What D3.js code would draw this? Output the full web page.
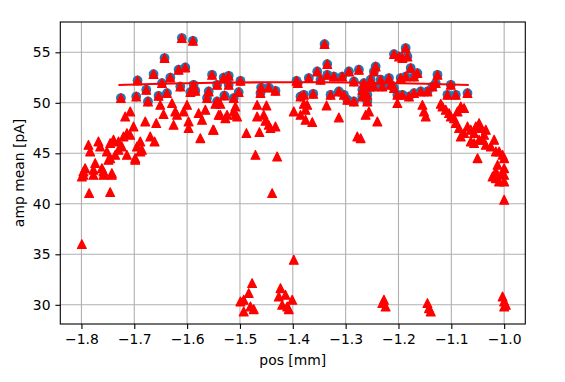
<!DOCTYPE html>
<html><head><meta charset="utf-8">
<script src="https://cdn.jsdelivr.net/npm/d3@7"></script>
<style>
html,body{margin:0;padding:0;background:#fff;}
text{font-family:"DejaVu Sans",sans-serif;}
</style></head>
<body>
<svg id="chart" width="565" height="382"></svg>
<script>
// Selected points (blue circles, with red triangles on top)
const selPos = [-1.610,-1.589,-1.6427,-1.6635,-1.6161,-1.6034,-1.6938,-1.6318,-1.6476,-1.7253,-1.6963,-1.6773,-1.6741,-1.6540,-1.6381,-1.6129,-1.5877,-1.5845,-1.5939,-1.5528,-1.5433,-1.5592,-1.5433,-1.5623,
 -1.3399,-1.3348,-1.5308,-1.5213,-1.5213,-1.4991,-1.5295,-1.5118,-1.5024,-1.4599,-1.4455,-1.4328,-1.4612,-1.3930,-1.3905,-1.3854,-1.3791,-1.3613,-1.3697,-1.3537,-1.3475,-1.3348,-1.3223,-1.3064,-1.2938,-1.2749,-1.3285,-1.3128,-1.3033,-1.2969,-1.2844,-1.2684,-1.2590,-1.2654,-1.2559,-1.2844,
 -1.2085,-1.1990,-1.1864,-1.1831,-1.1926,-1.2432,-1.2465,-1.1769,-1.1642,-1.1706,-1.2526,-1.2336,-1.2180,-1.1958,-1.1864,-1.2684,-1.2590,-1.2465,-1.2305,-1.2148,-1.2085,-1.2021,-1.1926,-1.1801,-1.1706,-1.1579,-1.1452,-1.1357,-1.1262,-1.1295,-1.1010,-1.1073,-1.0916,-1.0694];
const selAmp = [56.41,56.14,54.43,52.84,53.27,53.50,52.21,52.50,51.95,50.47,50.62,51.29,50.13,50.69,50.96,51.61,51.78,51.19,51.06,52.77,51.78,51.12,50.13,50.47,
 55.81,53.83,52.50,52.67,51.78,52.18,50.72,50.47,51.06,51.51,51.51,51.19,50.96,52.18,51.95,50.62,50.79,50.89,52.45,53.10,52.28,52.77,52.60,52.60,53.10,53.27,50.79,51.12,50.79,50.30,50.13,50.62,50.13,51.95,51.61,52.11,
 54.82,54.58,55.42,54.58,54.43,53.59,53.10,53.44,52.94,52.60,52.28,52.28,52.45,52.45,52.60,51.29,50.79,51.61,51.61,51.78,51.46,50.79,50.79,50.62,50.96,51.12,51.12,51.61,52.77,51.95,51.78,50.79,50.79,50.96];

// Remaining points (red triangles only)
const otherPos = [-1.7077,-1.7172,-1.6792,-1.6584,-1.6508,-1.6446,-1.6256,-1.6224,-1.6191,-1.6286,-1.6002,-1.5972,-1.5972,-1.6066,-1.5782,-1.5718,-1.5655,-1.5750,-1.5509,-1.5403,-1.5371,-1.7014,-1.7139,-1.7204,-1.7393,-1.7456,-1.7299,-1.7234,-1.6887,-1.6855,-1.6950,-1.6698,-1.6616,-1.7077,-1.7867,-1.7835,-1.7678,-1.7646,-1.7518,-1.7456,-1.7299,-1.7361,-1.7139,-1.6982,-1.6887,-1.7740,-1.7773,-1.7930,-1.7962,-1.7613,-1.7583,-1.7424,
 -1.7962,-1.7992,-1.7773,-1.7583,-1.7424,-1.7488,-1.6982,-1.7854,-1.7456,-1.7992,
 -1.5498,-1.5403,-1.5465,-1.5371,-1.5276,-1.5244,-1.5119,-1.5086,-1.5054,-1.5086,-1.4878,-1.4675,-1.4499,-1.4675,-1.4550,-1.4517,-1.4455,-1.4423,-1.4328,-1.4631,-1.4707,-1.4296,-1.3981,-1.3854,-1.3759,-1.3727,-1.3791,-1.3759,-1.3632,-1.3361,-1.3128,-1.2779,-1.2622,-1.2559,
 -1.4391,-1.3981,-1.4770,-1.4834,-1.4929,-1.4991,-1.4802,-1.4739,-1.4929,-1.4233,-1.4265,-1.4138,-1.4201,-1.4106,-1.4011,-1.4076,
 -1.2716,-1.2400,-1.2021,-1.1547,-1.1517,-1.1484,-1.1200,-1.1168,-1.1105,-1.1043,-1.1010,-1.0948,-1.0883,-1.0821,-1.0758,-1.0916,-1.0853,-1.0821,-1.0758,-1.0694,-1.0631,-1.0569,-1.0536,-1.0474,-1.0442,-1.0347,-1.0379,-1.0631,-1.0569,-1.0474,-1.0410,-1.0347,-1.0252,-1.0190,-1.0157,-1.0095,-1.0030,-1.0000,-1.0504,-1.0125,-1.0000,-1.0157,-1.0030,
 -1.0220,-1.0157,-1.0000,-1.0000,-1.0095,-1.0000,-1.2275,-1.2243,-1.2305,-1.1452,-1.1422,-1.1390,-1.0030,-1.0000,-1.0000,-0.9968];
const otherAmp = [49.14,48.64,48.15,47.99,49.80,48.88,47.82,49.14,48.81,49.97,49.80,48.15,47.50,49.14,48.98,48.32,49.31,46.50,47.33,48.81,49.90,47.65,47.00,46.66,46.34,46.01,46.17,45.67,46.17,45.35,45.67,46.66,46.17,46.83,45.84,45.18,46.17,45.67,45.18,44.52,45.35,44.85,44.85,44.52,45.18,44.03,43.37,43.53,43.20,43.53,43.20,43.04,
 42.87,42.70,42.87,42.87,42.87,44.36,44.36,41.06,41.16,36.01,
 47.33,49.97,49.90,48.81,48.48,48.81,49.14,48.81,48.64,49.63,47.00,49.80,49.73,48.64,48.81,48.22,47.82,47.50,47.65,47.10,44.85,44.68,49.14,48.81,49.31,49.80,49.90,48.32,48.09,49.73,48.55,46.66,48.81,49.14,
 41.06,34.46,32.15,31.16,30.50,30.33,29.83,29.57,29.34,31.65,30.82,30.99,30.00,29.83,30.50,29.57,
 46.50,48.15,49.97,49.80,49.14,48.64,49.90,49.63,49.31,48.98,48.64,48.48,49.14,49.63,49.48,47.99,47.50,46.66,47.00,47.65,47.33,47.00,47.65,47.99,47.50,47.33,46.83,46.17,46.01,46.34,46.34,45.84,45.67,46.34,45.18,45.18,44.85,44.52,44.52,43.86,43.53,43.20,43.04,
 42.70,42.54,42.87,42.21,42.21,40.40,30.50,29.83,30.17,30.17,29.67,29.34,30.82,30.33,29.83,30.00];

// Mean fit over the selected range
const fitPos = [-1.730,-1.65,-1.55,-1.45,-1.35,-1.25,-1.15,-1.067];
const fitAmp = [51.76,51.88,51.98,52.03,52.03,51.98,51.88,51.76];

const xTicks = [-1.8,-1.7,-1.6,-1.5,-1.4,-1.3,-1.2,-1.1,-1.0];
const yTicks = [30,35,40,45,50,55];
const xDomain = [-1.84,-0.96];
const yDomain = [28.1,58.0];

const svg = d3.select("#chart");
const L = 60.3, R = 525.3, T = 22, B = 324;
const x = d3.scaleLinear().domain(xDomain).range([L,R]);
const y = d3.scaleLinear().domain(yDomain).range([B,T]);
const fmtX = v => (v<0?"\u2212":"") + Math.abs(v).toFixed(1);

// grid
const g = svg.append("g");
g.selectAll(".gx").data(xTicks).enter().append("line")
 .attr("x1",d=>x(d)).attr("x2",d=>x(d)).attr("y1",T).attr("y2",B)
 .attr("stroke","#b0b0b0").attr("stroke-width",1.1);
g.selectAll(".gy").data(yTicks).enter().append("line")
 .attr("x1",L).attr("x2",R).attr("y1",d=>y(d)).attr("y2",d=>y(d))
 .attr("stroke","#b0b0b0").attr("stroke-width",1.1);

// plot clip
svg.append("clipPath").attr("id","clip").append("rect").attr("x",L).attr("y",T).attr("width",R-L).attr("height",B-T);
const p = svg.append("g").attr("clip-path","url(#clip)");

// circles
p.selectAll(".c").data(d3.range(selPos.length)).enter().append("circle")
 .attr("cx",i=>x(selPos[i])).attr("cy",i=>y(selAmp[i])).attr("r",4.9)
 .attr("fill","#1f77b4");

// line
p.append("path").datum(d3.range(fitPos.length))
 .attr("d", d3.line().x(i=>x(fitPos[i])).y(i=>y(fitAmp[i])))
 .attr("fill","none").attr("stroke","#ff0000").attr("stroke-width",2.1);

// triangles
const allPos = selPos.concat(otherPos), allAmp = selAmp.concat(otherAmp);
const s = 4.4;
p.selectAll(".t").data(d3.range(allPos.length)).enter().append("path")
 .attr("d", i=>{const cx=x(allPos[i]), cy=y(allAmp[i]); return `M${cx},${cy-s}L${cx-s},${cy+s}L${cx+s},${cy+s}Z`;})
 .attr("fill","#ff0000").attr("stroke","#ff0000").attr("stroke-width",1.2).attr("stroke-linejoin","round");

// axes
const xa = svg.append("g").attr("transform",`translate(0,${B})`)
 .call(d3.axisBottom(x).tickValues(xTicks).tickFormat(fmtX).tickSize(4.9).tickPadding(4.9));
const ya = svg.append("g").attr("transform",`translate(${L},0)`)
 .call(d3.axisLeft(y).tickValues(yTicks).tickFormat(d3.format("d")).tickSize(4.9).tickPadding(4.9));
[xa,ya].forEach(a=>{a.select(".domain").remove(); a.selectAll("text").attr("font-size",13.9).attr("font-family","DejaVu Sans").attr("fill","#000");
 a.selectAll("line").attr("stroke","#000").attr("stroke-width",1.1);});

// frame
svg.append("rect").attr("x",L).attr("y",T).attr("width",R-L).attr("height",B-T)
 .attr("fill","none").attr("stroke","#000").attr("stroke-width",1.1);

svg.append("text").attr("x",(L+R)/2).attr("y",365).attr("text-anchor","middle")
 .attr("font-size",13.9).text("pos [mm]");
svg.append("text").attr("transform",`translate(24,${(T+B)/2}) rotate(-90)`).attr("text-anchor","middle")
 .attr("font-size",13.9).text("amp mean [pA]");
</script>
</body></html>
